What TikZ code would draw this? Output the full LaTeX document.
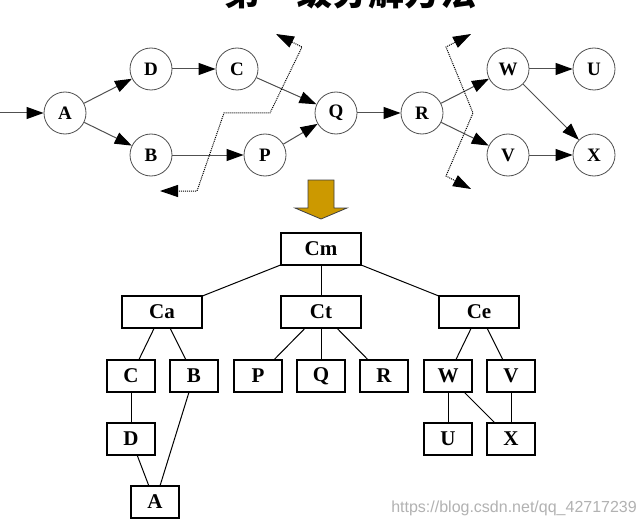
\documentclass[tikz,border=0pt]{standalone}
\usepackage{fontspec}
\setmainfont{Liberation Serif}
\newfontfamily\cjk{Noto Sans CJK SC}
\newfontfamily\wmfont{Liberation Sans}
\usetikzlibrary{arrows.meta}
\definecolor{gold}{RGB}{204,153,0}
\definecolor{edgegray}{RGB}{80,80,80}
\begin{document}
\begin{tikzpicture}[x=1pt,y=-1pt,
  circ/.style={circle,draw=edgegray,line width=0.8pt,minimum size=42pt,inner sep=0pt,font=\fontsize{19}{19}\selectfont\bfseries},
  flow/.style={draw=edgegray,line width=1pt,-{Triangle[length=17pt,width=12pt,color=black]}},
  cut/.style={densely dotted,line width=1pt,{Triangle[length=18pt,width=12pt]}-{Triangle[length=18pt,width=12pt]}},
  box/.style={rectangle,draw=black,line width=1.2pt,inner sep=0pt,minimum height=32pt,font=\fontsize{21}{21}\selectfont\bfseries},
  wide/.style={box,minimum width=80pt},
  narrow/.style={box,minimum width=48pt},
  link/.style={draw=black,line width=1pt}]
\clip (0,0) rectangle (642,524);
\fill[white] (0,0) rectangle (642,524);

% title (cut off at the top, as in the reference)
\node[anchor=base,inner sep=0pt,font=\fontsize{36}{36}\selectfont\cjk\bfseries] (title) at (350,6) {第一级分解方法};

% top graph
\node[circ] (A) at (65,113) {A};
\node[circ] (D) at (151,69) {D};
\node[circ] (C) at (237,69) {C};
\node[circ] (B) at (151,155) {B};
\node[circ] (P) at (265,155) {P};
\node[circ] (Q) at (336,113) {Q};
\node[circ] (R) at (422,113) {R};
\node[circ] (W) at (508,69) {W};
\node[circ] (U) at (594,69) {U};
\node[circ] (V) at (508,155) {V};
\node[circ] (X) at (594,155) {X};
\coordinate (in0) at (0,113);

\draw[flow] (in0) -- (A);
\draw[flow] (A) -- (D);
\draw[flow] (A) -- (B);
\draw[flow] (D) -- (C);
\draw[flow] (C) -- (Q);
\draw[flow] (B) -- (P);
\draw[flow] (P) -- (Q);
\draw[flow] (Q) -- (R);
\draw[flow] (R) -- (W);
\draw[flow] (R) -- (V);
\draw[flow] (W) -- (U);
\draw[flow] (W) -- (X);
\draw[flow] (V) -- (X);

% cut lines
\coordinate (l0) at (276,34);
\coordinate (l1) at (302,47);
\coordinate (l2) at (270,113);
\coordinate (l3) at (224,113);
\coordinate (l4) at (197,191);
\coordinate (l5) at (160,191);
\draw[cut] (l0) -- (l1) -- (l2) -- (l3) -- (l4) -- (l5);
\coordinate (r0) at (471,34);
\coordinate (r1) at (446,47);
\coordinate (r2) at (473,113);
\coordinate (r3) at (446,176);
\coordinate (r4) at (471,189);
\draw[cut] (r0) -- (r1) -- (r2) -- (r3) -- (r4);

% big arrow
\draw[fill=gold,draw=black!75,line width=0.8pt] (308,180) -- (334,180) -- (334,208) -- (347,208) -- (321,219) -- (295,208) -- (308,208) -- cycle;

% tree
\node[wide] (Cm) at (321,249) {Cm};
\node[wide] (Ca) at (162,312) {Ca};
\node[wide] (Ct) at (321,312) {Ct};
\node[wide] (Ce) at (479,312) {Ce};
\node[narrow] (tC) at (131,376) {C};
\node[narrow] (tB) at (194,376) {B};
\node[narrow] (tP) at (258,376) {P};
\node[narrow] (tQ) at (321,376) {Q};
\node[narrow] (tR) at (384,376) {R};
\node[narrow] (tW) at (448,376) {W};
\node[narrow] (tV) at (511,376) {V};
\node[narrow] (tD) at (131,439) {D};
\node[narrow] (tU) at (448,439) {U};
\node[narrow] (tX) at (511,439) {X};
\node[narrow] (tA) at (155,502) {A};

\draw[link] (Cm) -- (Ca);
\draw[link] (Cm) -- (Ct);
\draw[link] (Cm) -- (Ce);
\draw[link] (Ca) -- (tC);
\draw[link] (Ca) -- (tB);
\draw[link] (Ct) -- (tP);
\draw[link] (Ct) -- (tQ);
\draw[link] (Ct) -- (tR);
\draw[link] (Ce) -- (tW);
\draw[link] (Ce) -- (tV);
\draw[link] (tC) -- (tD);
\draw[link] (tD) -- (tA);
\draw[link] (tB) -- (tA);
\draw[link] (tW) -- (tU);
\draw[link] (tW) -- (tX);
\draw[link] (tV) -- (tX);

% watermark
\node[anchor=base east,inner sep=0pt,text=black!30,font=\fontsize{16}{16}\selectfont\wmfont] (wm) at (637,512) {https://blog.csdn.net/qq\_42717239};
\end{tikzpicture}
\end{document}
